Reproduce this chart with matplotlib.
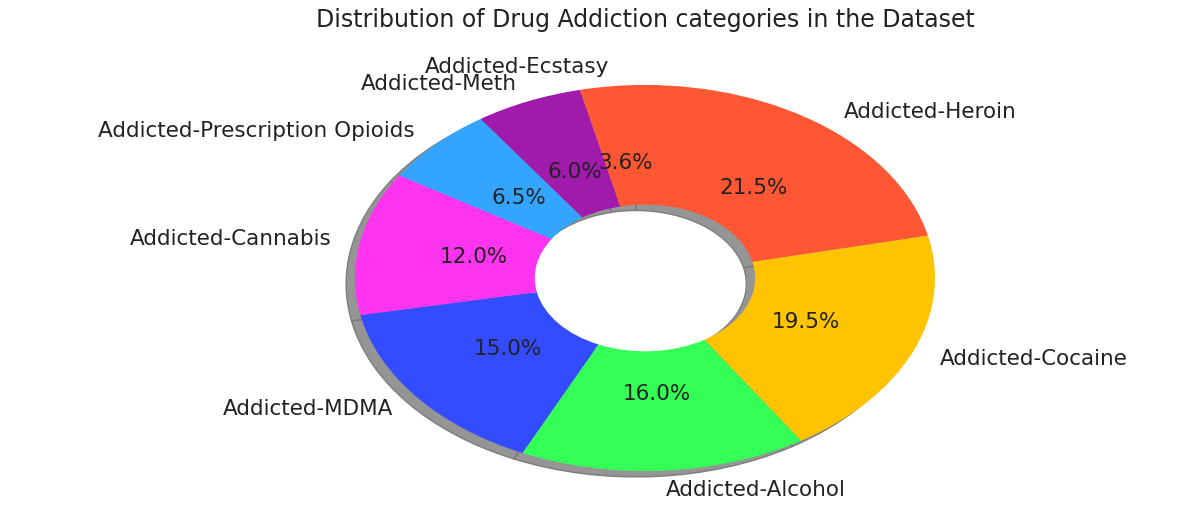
import numpy as np
import matplotlib.pyplot as plt

categories = ['Addicted-Heroin', 'Addicted-Cocaine', 'Addicted-Alcohol', 'Addicted-MDMA',
              'Addicted-Cannabis', 'Addicted-Prescription Opioids', 'Addicted-Meth',
              'Addicted-Ecstasy']
shares = [21.5, 19.5, 16.0, 15.0, 12.0, 6.5, 6.0, 3.6]
palette = ['#FF5733', '#FFC300', '#33FF57', '#334CFF', '#FF33F0', '#33A5FF', '#A01AAB']

fig = plt.figure(figsize=(11.89, 5.16), dpi=100)
ax = fig.add_axes([0, 0, 1, 1])

ax.pie(shares, labels=categories, colors=palette, autopct='%1.1f%%',
       startangle=90, counterclock=False,
       shadow={'ox': -0.022, 'oy': -0.022, 'facecolor': '#8a8a8a',
               'edgecolor': '#777777', 'alpha': 0.9},
       wedgeprops={'width': 0.62},
       textprops={'fontsize': 15.5, 'color': '#222222'})

# stretched, not round
ax.set_aspect('auto')
ax.set_xlim(-2.224, 1.876)
ax.set_ylim(-1.233, 1.44)
ax.axis('off')

fig.text(0.543, 0.962, 'Distribution of Drug Addiction categories in the Dataset',
         ha='center', va='center', fontsize=17, color='#222222')

fig.savefig('out.png', dpi=100)
